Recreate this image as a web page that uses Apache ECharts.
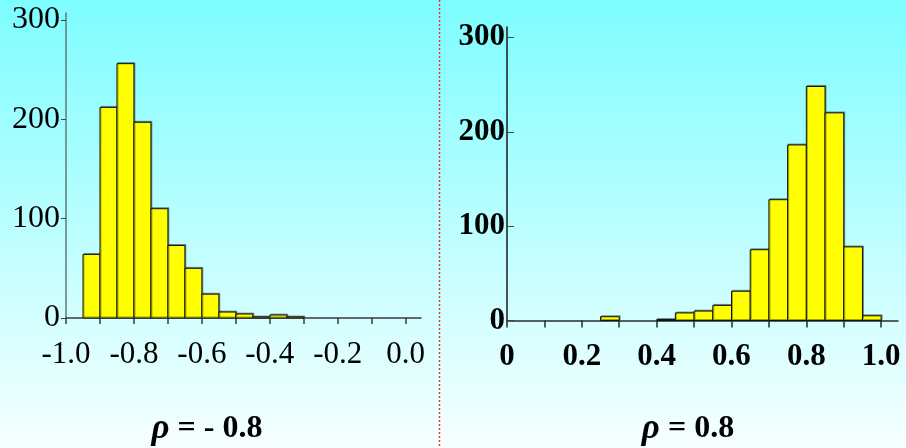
<!DOCTYPE html>
<html>
<head>
<meta charset="utf-8">
<script src="https://cdn.jsdelivr.net/npm/echarts@6/dist/echarts.min.js"></script>
<style>
html,body{margin:0;padding:0;}
#c{width:906px;height:448px;}
</style>
</head>
<body>
<div id="c"></div>
<script>
// ---- data ----
const binWidth = 0.05;
const leftBinStarts = [-0.95, -0.90, -0.85, -0.80, -0.75, -0.70, -0.65, -0.60, -0.55, -0.50, -0.45, -0.40, -0.35];
const leftCounts    = [64, 212, 256, 197, 110, 73, 50, 24, 6, 4, 1, 3, 1];
const rightBinStarts = [0.25, 0.30, 0.35, 0.40, 0.45, 0.50, 0.55, 0.60, 0.65, 0.70, 0.75, 0.80, 0.85, 0.90, 0.95];
const rightCounts    = [4, 0, 0, 1, 8, 10, 16, 31, 75, 128, 186, 248, 220, 78, 5];
const leftXTicks  = [-1.0, -0.9, -0.8, -0.7, -0.6, -0.5, -0.4, -0.3, -0.2, -0.1, 0.0];
const leftXLabels = [-1.0, -0.8, -0.6, -0.4, -0.2, 0.0];
const rightXTicks  = [0, 0.1, 0.2, 0.3, 0.4, 0.5, 0.6, 0.7, 0.8, 0.9, 1.0];
const rightXLabels = [0, 0.2, 0.4, 0.6, 0.8, 1.0];
const yTicks = [0, 100, 200, 300];
const rhoSymbol = '\u03c1';
const leftTitleRest = ' = - 0.8';
const rightTitleRest = ' = 0.8';

function toData(starts, counts) {
  const out = [];
  starts.forEach((s, i) => { if (counts[i] > 0) out.push([s, +(s + binWidth).toFixed(4), counts[i]]); });
  return out;
}

function renderBin(params, api) {
  const p0 = api.coord([api.value(0), api.value(2)]);
  const p1 = api.coord([api.value(1), 0]);
  return {
    type: 'rect',
    shape: { x: p0[0], y: p0[1], width: p1[0] - p0[0], height: p1[1] - p0[1] },
    style: { fill: '#ffff00', stroke: '#111', lineWidth: 1,
             shadowColor: 'rgba(0,0,0,0.35)', shadowOffsetX: 1, shadowOffsetY: -1, shadowBlur: 0 }
  };
}

const serif = 'Liberation Serif, Times New Roman, serif';
const chart = echarts.init(document.getElementById('c'), null, { renderer: 'canvas' });

const titleRich = {
  r: { fontFamily: serif, fontStyle: 'italic', fontSize: 35, color: '#000' },
  b: { fontFamily: serif, fontWeight: 'bold', fontSize: 32, color: '#000' }
};

chart.setOption({
  animation: false,
  backgroundColor: { type: 'linear', x: 0, y: 0, x2: 0, y2: 1,
    colorStops: [{ offset: 0, color: '#7dfdff' }, { offset: 1, color: '#f7ffff' }] },
  title: [
    { text: '{r|' + rhoSymbol + '}{b|' + leftTitleRest + '}', left: 202, top: 406, textAlign: 'center',
      textStyle: { rich: titleRich } },
    { text: '{r|' + rhoSymbol + '}{b|' + rightTitleRest + '}', left: 683, top: 406, textAlign: 'center',
      textStyle: { rich: titleRich } }
  ],
  graphic: [
    { type: 'line', shape: { x1: 439.5, y1: 0, x2: 439.5, y2: 448 },
      style: { stroke: '#e83a3a', lineWidth: 1.5, lineDash: [2, 2] } }
  ],
  grid: [
    { left: 66, top: 13, width: 355, height: 305 },
    { left: 507, top: 27, width: 391, height: 293.5 }
  ],
  xAxis: [
    { gridIndex: 0, type: 'value', min: -1.0, max: 0.045,
      splitLine: { show: false },
      axisLine: { onZero: false, lineStyle: { color: '#3a3a3a', width: 1.5 } },
      axisTick: { customValues: leftXTicks, length: 6, inside: false, lineStyle: { color: '#3a3a3a', width: 1.5 } },
      axisLabel: { customValues: leftXLabels, margin: 21, fontFamily: serif, fontSize: 31, color: '#000',
        formatter: v => v.toFixed(1) } },
    { gridIndex: 1, type: 'value', min: 0, max: 1.045,
      splitLine: { show: false },
      axisLine: { onZero: false, lineStyle: { color: '#2a2a2a', width: 1.5 } },
      axisTick: { customValues: rightXTicks, length: 7, inside: false, lineStyle: { color: '#2a2a2a', width: 1.5 } },
      axisLabel: { customValues: rightXLabels, margin: 21, fontFamily: serif, fontWeight: 'bold', fontSize: 31, color: '#000',
        formatter: v => (v === 0 ? '0' : v.toFixed(1)) } }
  ],
  yAxis: [
    { gridIndex: 0, type: 'value', min: 0, max: 307,
      splitLine: { show: false },
      axisLine: { show: true, onZero: false, lineStyle: { color: '#5f7a7a', width: 1.5 } },
      axisTick: { show: true, customValues: yTicks, length: 5, inside: false, lineStyle: { color: '#3a4a4a' } },
      axisLabel: { customValues: yTicks, margin: 6, fontFamily: serif, fontSize: 32, color: '#000' } },
    { gridIndex: 1, type: 'value', min: 0, max: 311,
      splitLine: { show: false },
      axisLine: { show: true, onZero: false, lineStyle: { color: '#1a1a1a', width: 1.5 } },
      axisTick: { show: true, customValues: yTicks, length: 7, inside: true, lineStyle: { color: '#3a4a4a' } },
      axisLabel: { customValues: yTicks, margin: 2, fontFamily: serif, fontWeight: 'bold', fontSize: 31, color: '#000' } }
  ],
  series: [
    { type: 'custom', xAxisIndex: 0, yAxisIndex: 0, renderItem: renderBin,
      encode: { x: [0, 1], y: 2 }, data: toData(leftBinStarts, leftCounts) },
    { type: 'custom', xAxisIndex: 1, yAxisIndex: 1, renderItem: renderBin,
      encode: { x: [0, 1], y: 2 }, data: toData(rightBinStarts, rightCounts) }
  ]
});
</script>
</body>
</html>
